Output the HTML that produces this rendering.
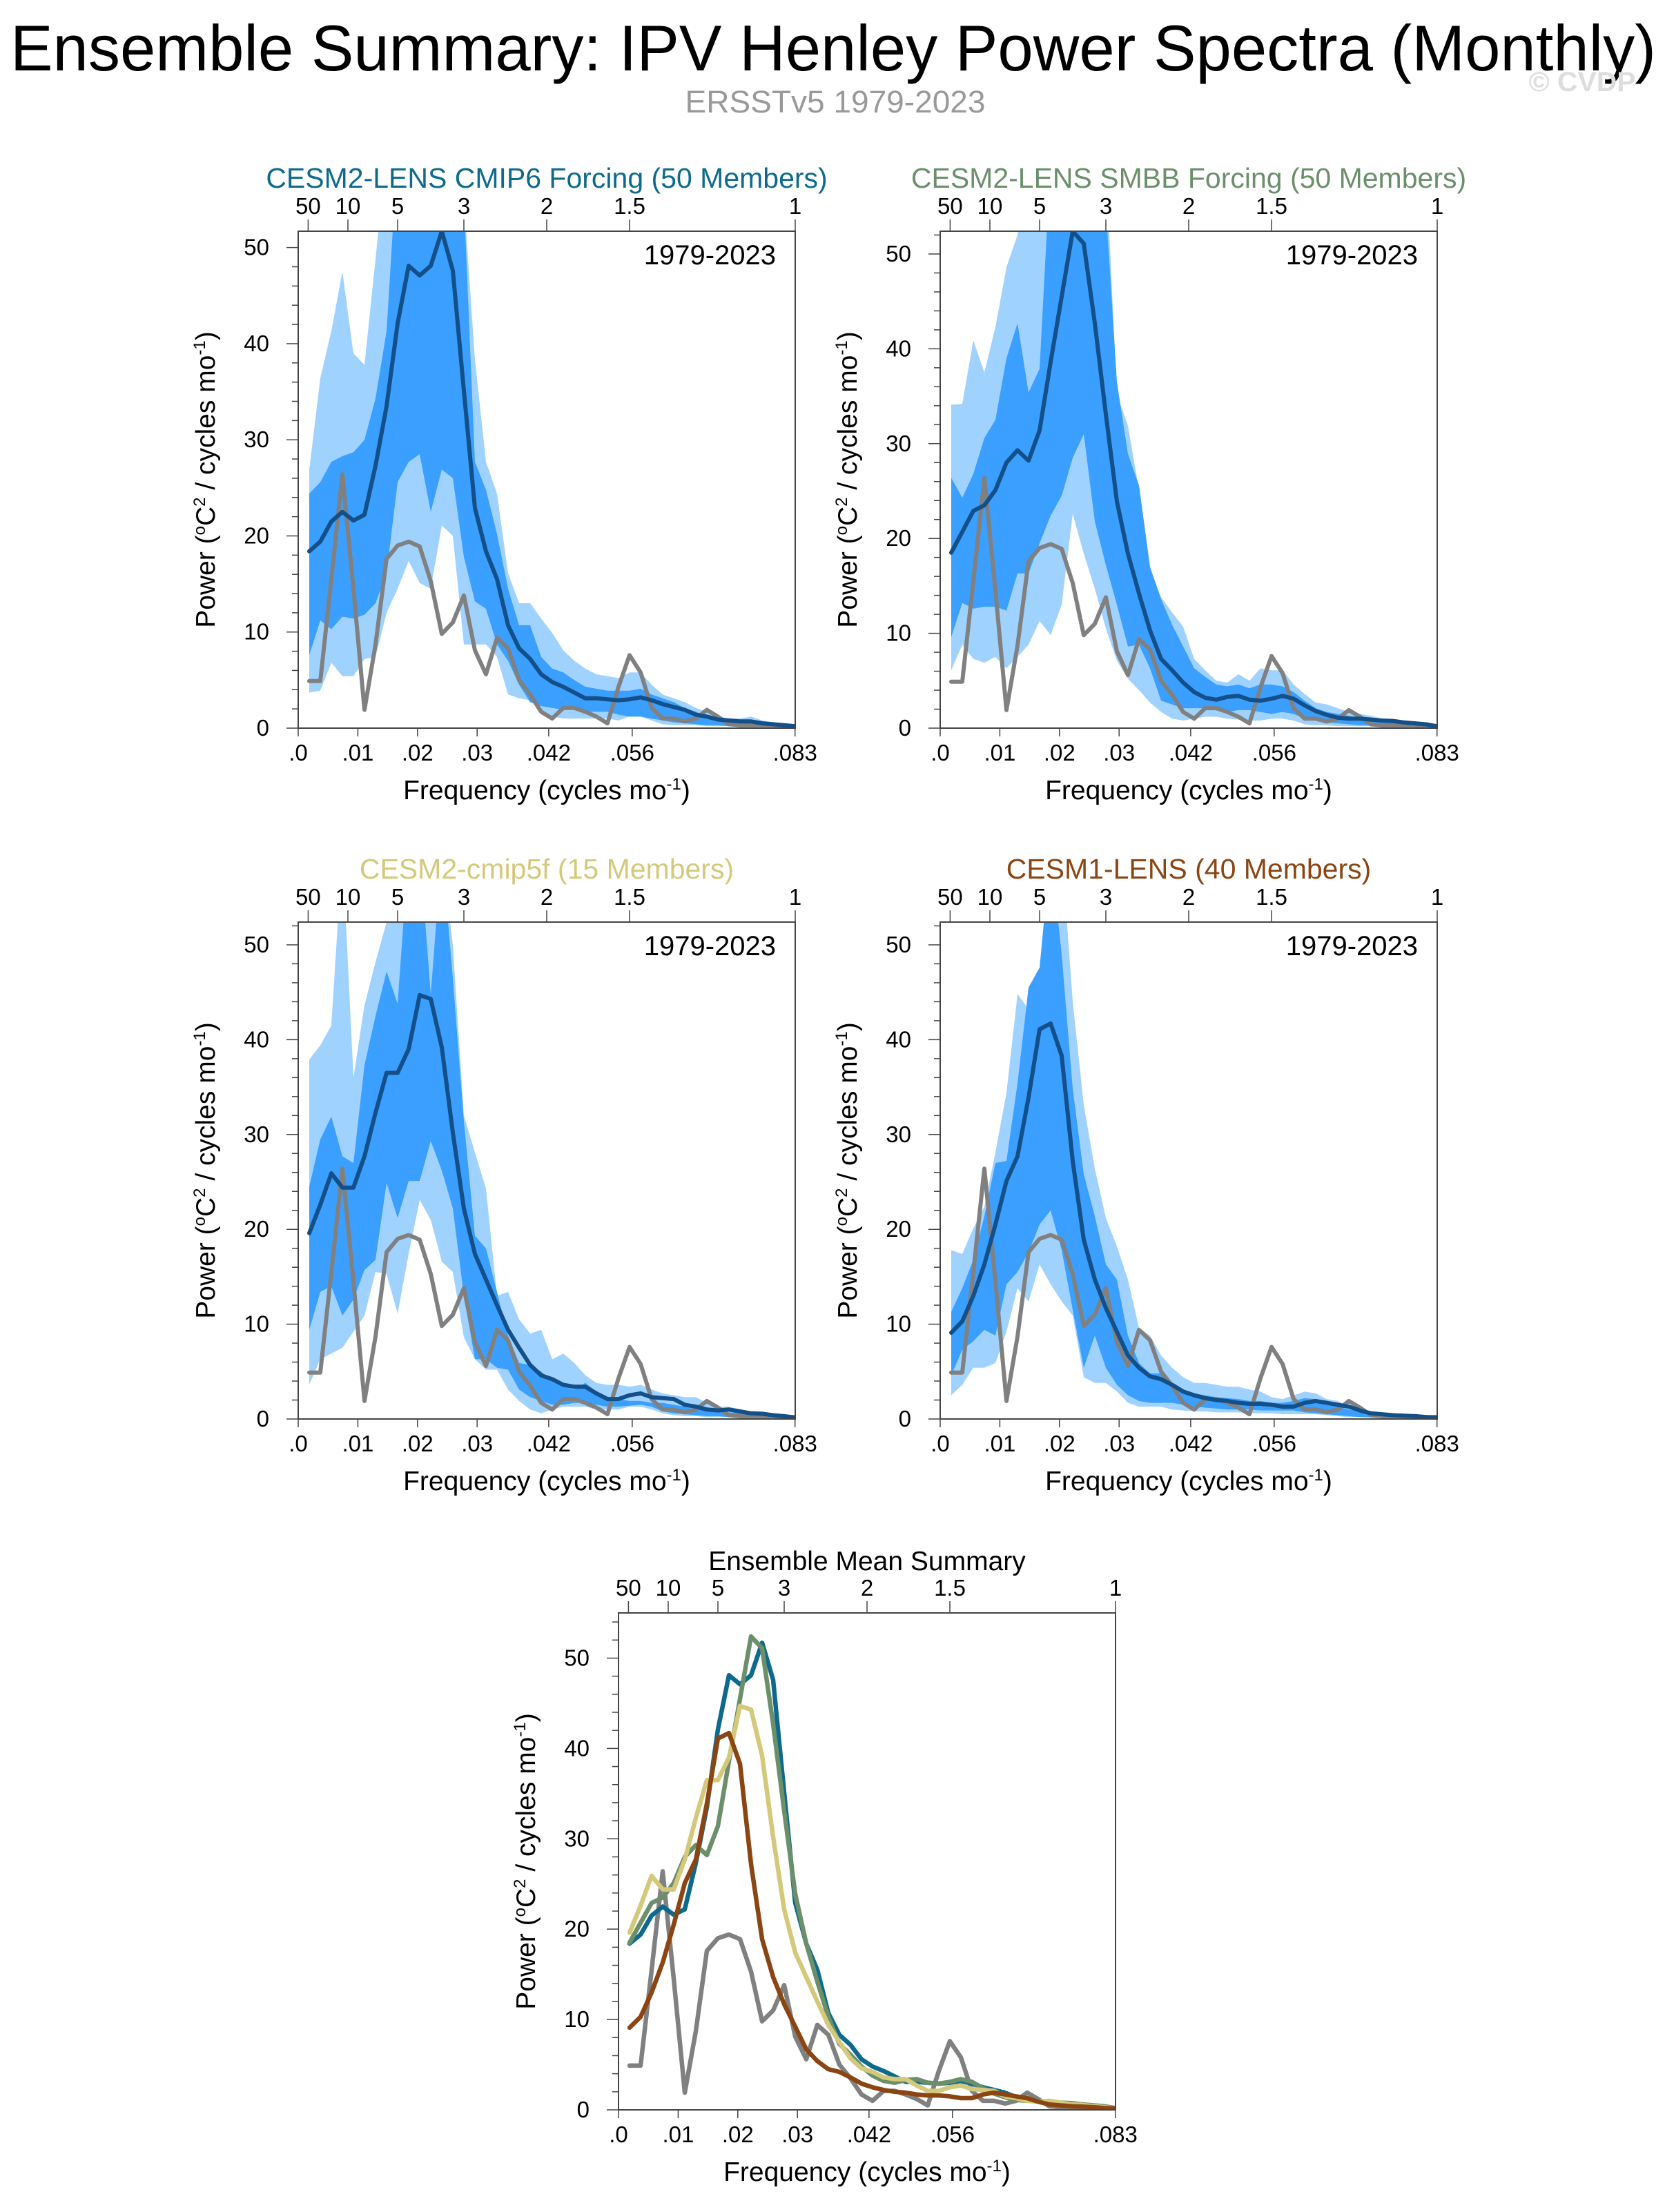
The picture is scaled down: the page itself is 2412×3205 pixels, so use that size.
<!DOCTYPE html>
<html><head><meta charset="utf-8"><style>
html,body{margin:0;padding:0;background:#fff;}
svg{display:block;font-family:"Liberation Sans",Arial,sans-serif;}
</style></head><body>
<svg id="fig" width="2412" height="3205" viewBox="0 0 2412 3205" xmlns="http://www.w3.org/2000/svg">
<text x="1207" y="102" font-size="94" text-anchor="middle" textLength="2384" lengthAdjust="spacingAndGlyphs">Ensemble Summary: IPV Henley Power Spectra (Monthly)</text>
<text x="1210" y="163" font-size="45" fill="#999" text-anchor="middle" textLength="435" lengthAdjust="spacingAndGlyphs">ERSSTv5 1979-2023</text>
<text x="2292" y="132" font-size="40" font-weight="bold" fill="#ddd" text-anchor="middle" textLength="155" lengthAdjust="spacingAndGlyphs">© CVDP</text>
</svg>
<script>
// ---- data (k = 1..45, frequency k/540 cycles/mo) ----
const NPTS = 45;
const yTicks = [0,10,20,30,40,50];
const xTickVals = [0,0.01,0.02,0.03,0.042,0.056,0.0833];
const xTickLabels = [".0",".01",".02",".03",".042",".056",".083"];
const periodVals = [50,10,5,3,2,1.5,1];
const obs = [4.9,4.9,15.5,26.4,14.5,1.9,8.7,17.6,19.0,19.4,18.9,15.3,9.8,11.0,13.8,8.1,5.6,9.4,8.3,5.0,3.5,1.7,1.0,2.1,2.1,1.7,1.2,0.5,4.3,7.6,5.8,2.1,1.0,1.0,0.7,1.0,1.9,1.2,0.4,0.3,0.3,0.3,0.3,0.2,0.2];

const p1Mean = [18.4,19.4,21.5,22.5,21.6,22.2,27.3,33.5,42.1,48.1,47.1,48.1,51.7,47.6,35.1,22.9,18.4,15.5,10.7,8.3,7.2,5.6,4.8,4.3,3.7,3.1,3.1,3.0,2.9,3.0,3.2,2.9,2.5,2.2,1.9,1.4,1.2,0.9,0.8,0.7,0.7,0.5,0.4,0.3,0.2];
const p1LightU = [26.9,36.4,41.3,47.5,39.0,37.8,48.8,60,60,60,60,60,60,60,55,38.4,27.7,24.4,16.1,13.0,13.0,11.4,9.9,8.1,7.0,6.2,5.6,5.4,5.2,5.8,5.8,4.5,3.5,3.1,2.7,2.1,1.7,1.2,1.0,1.0,1.2,0.8,0.6,0.4,0.2];
const p1LightL = [3.7,3.9,6.8,5.4,5.4,7.2,7.4,12.0,14.5,17.4,15.1,14.5,21.1,20.0,8.7,8.7,8.7,7.4,3.5,3.1,2.9,1.9,1.2,1.0,1.0,1.0,1.0,1.0,0.8,1.2,1.2,0.8,0.4,0.3,0.3,0.3,0.2,0.2,0.2,0.2,0.1,0.1,0.1,0.1,0.1];
const p1DarkU = [24.4,25.6,27.7,28.3,28.7,30,34.3,41.3,60,60,60,60,60,60,55,27.7,24.8,20.2,14.5,10.7,10.7,7.4,6.2,5.8,5.0,4.3,4.1,3.9,3.9,3.9,4.1,3.5,3.1,2.7,2.1,1.7,1.2,1.0,0.8,0.6,0.5,0.4,0.3,0.2,0.2];
const p1DarkL = [7.6,11.2,10.3,11.6,11.4,11.8,13.0,16.1,25.6,27.7,28.5,22.5,26.9,26.0,17.8,13.2,12.4,8.7,7.0,4.5,2.7,2.3,2.1,1.9,1.9,1.7,1.7,1.7,1.4,1.2,1.2,1.0,0.8,0.6,0.5,0.4,0.3,0.3,0.2,0.2,0.2,0.1,0.1,0.1,0.1];

const p2Mean = [18.5,20.7,22.9,23.5,25.1,28.0,29.3,28.2,31.4,38.6,45.5,52.4,51.1,42.7,33.1,23.9,18.4,14.2,10.3,7.3,6.1,4.8,3.8,3.2,3.0,3.3,3.4,3.0,2.9,3.1,3.4,3.1,2.4,1.8,1.4,1.1,1.0,1.0,0.9,0.8,0.75,0.6,0.5,0.4,0.2];
const p2LightU = [34.1,34.2,40.9,37.5,42.3,48.6,52,60,60,60,60,60,60,60,60,35.2,31.9,25.1,16.8,13.8,12.2,10.7,7.3,6.1,5.0,4.8,5.7,5.0,6.3,6.1,6.1,4.6,3.6,2.7,2.5,2.1,1.7,1.5,1.3,1.0,1.0,0.8,0.6,0.4,0.2];
const p2LightL = [6.1,8.8,7.3,6.9,7.5,6.3,7.5,8.8,11.3,9.8,13.0,22.6,18.4,14.7,10.5,7.1,5.2,4.0,2.7,1.7,1.0,0.8,1.0,1.2,1.2,1.0,0.9,0.8,0.8,1.0,1.0,0.8,0.4,0.3,0.3,0.2,0.2,0.2,0.2,0.1,0.1,0.1,0.1,0.1,0.1];
const p2DarkU = [26.4,24.3,26.8,30.6,32.5,39.0,42.7,35.4,37.9,60,60,60,60,60,55,36.5,28.9,25.6,17.0,13.6,10.9,8.6,6.3,5.4,4.6,4.4,4.6,4.2,4.6,4.6,4.4,3.8,2.9,2.1,1.7,1.5,1.3,1.0,0.9,0.8,0.7,0.6,0.4,0.3,0.2];
const p2DarkL = [9.6,13.2,12.6,12.8,12.8,12.4,16.3,16.3,19.5,22.4,24.5,28.5,31.0,21.8,17.2,13.0,8.6,8.8,6.3,2.9,2.5,2.1,2.1,2.1,1.9,1.7,1.9,1.9,1.7,1.5,1.7,1.5,1.0,0.8,0.6,0.5,0.4,0.3,0.3,0.2,0.2,0.1,0.1,0.1,0.1];

const p3Mean = [19.6,22.6,25.9,24.4,24.4,27.7,32.3,36.5,36.5,39.0,44.7,44.3,39.2,30.2,22.2,17.4,14.7,12.0,9.4,7.5,5.7,4.6,4.2,3.6,3.4,3.4,2.7,2.1,2.1,2.5,2.7,2.3,2.2,2.1,1.5,1.3,1.0,0.9,1.0,0.8,0.6,0.55,0.4,0.3,0.15];
const p3LightU = [37.9,39.4,41.5,60,36.0,43.6,48.2,52.4,60,60,60,60,60,50,32,28.1,24.3,13.0,13.4,10.5,9.0,9.4,6.3,6.9,5.9,4.6,3.8,3.6,3.6,3.4,3.6,3.1,2.7,2.5,2.3,2.3,1.7,1.3,1.3,1.0,0.8,0.6,0.4,0.3,0.15];
const p3LightL = [3.6,6.3,6.9,7.5,9.2,10.9,15.5,15.3,11.1,17.4,23.1,21.0,16.6,15.5,8.6,6.3,5.2,5.2,3.1,1.9,1.0,0.6,1.0,1.3,1.3,1.3,1.0,1.0,1.0,1.3,1.3,1.0,0.6,0.4,0.3,0.3,0.2,0.2,0.2,0.1,0.1,0.1,0.1,0.1,0.1];
const p3DarkU = [24.5,29.5,31.9,27.7,27.0,37.3,42.5,47.2,43.8,60,60,44.8,60,46.5,31.4,19.3,18.0,13.4,8.8,5.9,5.7,5.0,4.0,3.4,3.1,3.8,2.9,2.3,2.1,1.9,1.9,1.7,1.7,1.5,1.3,1.0,0.9,0.8,0.7,0.6,0.5,0.4,0.3,0.2,0.15];
const p3DarkL = [9.4,13.4,14.0,10.9,12.6,15.7,16.8,24.9,21.2,25.1,25.1,29.3,26.2,22.2,13.0,6.3,6.3,5.4,5.2,3.1,2.3,1.9,1.5,1.5,1.7,1.7,1.5,1.3,1.3,1.4,1.5,1.3,0.8,0.6,0.5,0.4,0.3,0.3,0.2,0.2,0.2,0.1,0.1,0.1,0.1];

const p4Mean = [9.1,10.3,13.0,16.3,20.5,25.1,27.7,33.9,41.1,41.7,38.3,27.2,18.9,14.7,11.7,9.2,6.7,5.4,4.5,4.2,3.6,2.9,2.5,2.2,2.0,1.9,1.7,1.6,1.6,1.5,1.3,1.3,1.7,1.9,1.7,1.5,1.3,0.9,0.6,0.5,0.4,0.35,0.3,0.2,0.15];
const p4LightU = [17.8,17.4,20.1,22.4,28.1,34.4,44.8,43.2,45.3,48.2,60,44.0,33.1,26.4,21.2,18.2,14.7,9.6,8.8,6.7,5.4,4.4,3.8,3.8,3.6,3.4,3.4,3.1,2.9,2.3,2.1,2.5,2.9,2.7,2.1,1.9,1.3,0.9,0.8,0.6,0.5,0.4,0.3,0.2,0.15];
const p4LightL = [2.5,3.6,5.4,5.4,5.9,9.2,13.8,12.4,16.3,14.2,12.4,10.9,4.4,3.8,3.8,2.9,1.7,1.3,1.3,1.3,1.0,0.9,0.8,0.8,0.7,0.7,0.7,0.6,0.6,0.6,0.5,0.5,0.5,0.5,0.4,0.3,0.2,0.2,0.1,0.1,0.1,0.1,0.1,0.1,0.1];
const p4DarkU = [11.3,13.8,16.8,21.4,27.0,27.2,35.4,45.5,47.6,60,49.0,34.8,25.8,21.4,16.3,14.7,8.8,5.9,4.8,4.8,3.8,3.1,2.7,2.5,2.3,2.2,2.1,1.9,1.9,1.7,1.7,1.9,2.2,2.1,1.7,1.3,1.0,0.8,0.7,0.6,0.5,0.4,0.3,0.2,0.15];
const p4DarkL = [4.6,7.3,8.2,9.4,8.8,14.2,15.5,17.6,20.5,22.0,17.8,11.5,5.4,8.8,5.4,3.6,2.5,1.9,1.7,1.7,1.7,1.5,1.3,1.2,1.1,1.0,1.0,1.0,0.9,0.9,0.9,0.9,0.7,0.6,0.5,0.4,0.3,0.2,0.2,0.1,0.1,0.1,0.1,0.1,0.1];

const panelTitles = ["CESM2-LENS CMIP6 Forcing (50 Members)","CESM2-LENS SMBB Forcing (50 Members)","CESM2-cmip5f (15 Members)","CESM1-LENS (40 Members)"];
const panelColors = ["#0d6a8c","#6b8f6b","#d4c97a","#8b4513"];

const NS = "http://www.w3.org/2000/svg";
const svg = document.getElementById('fig');
function mk(tag, attrs, parent){const e=document.createElementNS(NS,tag);for(const k in attrs)e.setAttribute(k,attrs[k]);(parent||svg).appendChild(e);return e;}
const freqs = []; for(let k=1;k<=NPTS;k++) freqs.push(k/540);

function drawPanel(o){
  const g = mk('g',{});
  
  
  const L=o.x, T=o.y, W=720, H=720, B=T+H;
  const xs = f => L + f/(1/12)*W;
  const ys = v => B - v/o.ymax*H;
  const cid = 'clip-'+o.name;
  const cp = mk('clipPath',{id:cid},g); mk('rect',{x:L,y:T,width:W,height:H},cp);
  const plot = mk('g',{'clip-path':'url(#'+cid+')'},g);
  
  
  function band(up, lo, col, nm){
    let pts = freqs.map((f,i)=>xs(f).toFixed(1)+','+ys(up[i]).toFixed(1));
    for(let i=NPTS-1;i>=0;i--) pts.push(xs(freqs[i]).toFixed(1)+','+ys(lo[i]).toFixed(1));
    const p = mk('polygon',{points:pts.join(' '),fill:col},plot);
    
    
  }
  function line(vals, col, nm, w){
    const pts = freqs.map((f,i)=>xs(f).toFixed(1)+','+ys(vals[i]).toFixed(1)).join(' ');
    const p = mk('polyline',{points:pts,fill:'none',stroke:col,'stroke-width':w||6,'stroke-linejoin':'round','stroke-linecap':'round'},plot);
    
    
  }
  if(o.bands){
    band(o.lu,o.ll,'#a0d2ff','outer-spread-band');
    band(o.du,o.dl,'#3a9fff','inner-spread-band');
  }
  line(obs,'#808080','observed-line', o.multi?6.5:6);
  if(o.bands){ line(o.mean,'#134f88','ensemble-mean-line',6); }
  if(o.multi){ o.multi.forEach((m,i)=>line(m,panelColors[i],'mean-line-'+(i+1),6.5)); }
  const fr = mk('rect',{x:L,y:T,width:W,height:H,fill:'none',stroke:'#444','stroke-width':2},g);
  
  
  for(let v=0; v<=o.ymax; v+=2){
    const major = v%10===0;
    mk('line',{x1:L-(major?17:9),x2:L,y1:ys(v),y2:ys(v),stroke:'#444','stroke-width':1.5},g);
  }
  yTicks.forEach(v=>{
    const t = mk('text',{x:L-42,y:ys(v)+11,'font-size':33,'text-anchor':'end'},g);
    t.textContent = v;
    
    
  });
  xTickVals.forEach((f,i)=>{
    mk('line',{x1:xs(f),x2:xs(f),y1:B,y2:B+12,stroke:'#444','stroke-width':1.5},g);
    const t = mk('text',{x:xs(f),y:B+47,'font-size':33,'text-anchor':'middle'},g);
    t.textContent = xTickLabels[i];
    
    
  });
  periodVals.forEach(p=>{
    const x = xs(1/(12*p));
    mk('line',{x1:x,x2:x,y1:T,y2:T-17,stroke:'#444','stroke-width':1.5},g);
    const t = mk('text',{x:x,y:T-25,'font-size':33,'text-anchor':'middle'},g);
    t.textContent = p;
    
    
  });
  const xt = mk('text',{x:L+W/2,y:B+103,'font-size':39,'text-anchor':'middle'},g);
  xt.innerHTML = 'Frequency (cycles mo<tspan dy="-14" font-size="24">-1</tspan><tspan dy="14">)</tspan>';
  
  
  const cy = T+H/2, cx = L-121;
  const yt = mk('text',{x:cx,y:cy,'font-size':39,'text-anchor':'middle',transform:'rotate(-90 '+cx+' '+cy+')'},g);
  yt.innerHTML = 'Power (<tspan dy="-14" font-size="24">o</tspan><tspan dy="14">C</tspan><tspan dy="-14" font-size="24">2</tspan><tspan dy="14"> / cycles mo</tspan><tspan dy="-14" font-size="24">-1</tspan><tspan dy="14">)</tspan>';
  
  
  const tt = mk('text',{x:L+W/2,y:o.titleY,'font-size':o.titleSize||41,'text-anchor':'middle',fill:o.titleColor},g);
  tt.textContent = o.title;
  
  
  if(o.bands){
    const yr = mk('text',{x:L+W-28,y:T+48,'font-size':40,'text-anchor':'end'},g);
    yr.textContent = '1979-2023';
    
    
  }
}

const panels = [
  {name:'panel-cesm2-cmip6',x:432,y:335,ymax:51.7,mean:p1Mean,lu:p1LightU,ll:p1LightL,du:p1DarkU,dl:p1DarkL},
  {name:'panel-cesm2-smbb',x:1362,y:335,ymax:52.4,mean:p2Mean,lu:p2LightU,ll:p2LightL,du:p2DarkU,dl:p2DarkL},
  {name:'panel-cesm2-cmip5f',x:432,y:1336,ymax:52.4,mean:p3Mean,lu:p3LightU,ll:p3LightL,du:p3DarkU,dl:p3DarkL},
  {name:'panel-cesm1-lens',x:1362,y:1336,ymax:52.4,mean:p4Mean,lu:p4LightU,ll:p4LightL,du:p4DarkU,dl:p4DarkL}
];
panels.forEach((p,i)=>{
  p.bands = true; p.title = panelTitles[i]; p.titleColor = panelColors[i]; p.titleY = p.y-63;
  drawPanel(p);
});
drawPanel({name:'panel-ensemble-mean-summary',x:896,y:2337,ymax:55,bands:false,
  multi:[p1Mean,p2Mean,p3Mean,p4Mean],title:'Ensemble Mean Summary',titleColor:'#000',titleY:2275,titleSize:39});
</script>
</body></html>
